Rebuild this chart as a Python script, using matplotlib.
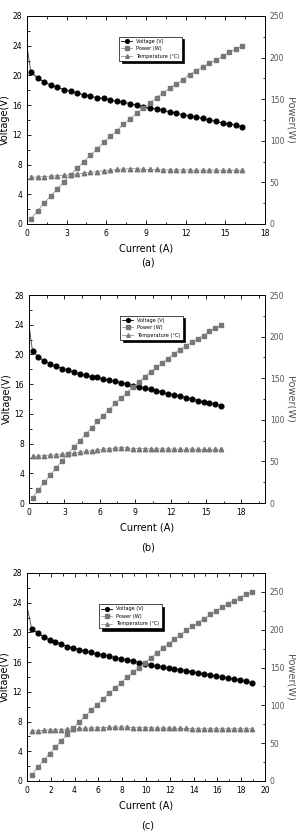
import matplotlib
matplotlib.use("Agg")
import matplotlib.pyplot as plt
from matplotlib.ticker import MultipleLocator, AutoMinorLocator

# panels (a) and (b)
current_ab = [0.3, 0.8, 1.3, 1.8, 2.3, 2.8, 3.3, 3.8, 4.3, 4.8, 5.3, 5.8, 6.3, 6.8,
              7.3, 7.8, 8.3, 8.8, 9.3, 9.8, 10.3, 10.8, 11.3, 11.8, 12.3, 12.8,
              13.3, 13.8, 14.3, 14.8, 15.3, 15.8, 16.3]
voltage_ab = [20.4, 19.7, 19.1, 18.7, 18.4, 18.1, 17.9, 17.6, 17.4, 17.2, 17.0,
              16.9, 16.7, 16.5, 16.4, 16.2, 16.0, 15.8, 15.6, 15.5, 15.3, 15.1,
              14.9, 14.7, 14.6, 14.4, 14.2, 14.0, 13.8, 13.6, 13.5, 13.3, 13.1]
power_ab = [6.1, 15.8, 24.8, 33.7, 42.3, 50.7, 59.1, 66.9, 74.8, 82.6, 90.1,
            98.0, 105.2, 112.2, 119.7, 126.4, 132.8, 139.0, 145.1, 151.9, 157.6,
            163.1, 168.4, 173.5, 179.6, 184.3, 188.9, 193.2, 197.3, 201.3, 206.6,
            210.1, 213.5]
temp_ab = [56, 56.5, 57, 57.5, 58, 58.5, 59, 60, 61, 62, 63, 64, 64.5, 65.5, 66,
           66.5, 66.5, 65.5, 65.5, 65.5, 65, 65, 65, 65, 65, 64.5, 64.5, 65, 64.5,
           64.5, 64.5, 64.5, 64.5]
v_open_ab = 24.0

# panel (c)
current_c = [0.4, 0.9, 1.4, 1.9, 2.4, 2.9, 3.4, 3.9, 4.4, 4.9, 5.4, 5.9, 6.4, 6.9,
             7.4, 7.9, 8.4, 8.9, 9.4, 9.9, 10.4, 10.9, 11.4, 11.9, 12.4, 12.9,
             13.4, 13.9, 14.4, 14.9, 15.4, 15.9, 16.4, 16.9, 17.4, 17.9, 18.4, 18.9]
voltage_c = [20.5, 19.9, 19.4, 19.0, 18.7, 18.4, 18.1, 17.9, 17.7, 17.5, 17.3,
             17.1, 17.0, 16.8, 16.6, 16.45, 16.3, 16.15, 15.95, 15.8, 15.65, 15.5,
             15.4, 15.25, 15.1, 15.0, 14.85, 14.7, 14.55, 14.4, 14.3, 14.15, 14.0,
             13.85, 13.7, 13.55, 13.4, 13.2]
power_c = [8.2, 17.9, 27.2, 36.1, 44.9, 53.4, 61.5, 69.8, 77.9, 85.8, 93.4, 100.9,
           108.8, 115.9, 122.8, 130.0, 136.9, 143.7, 149.9, 156.4, 162.8, 169.0,
           175.6, 181.5, 187.2, 193.5, 199.0, 204.3, 209.5, 214.6, 220.2, 225.0,
           229.6, 234.1, 238.4, 242.5, 246.6, 249.5]
temp_c = [66, 66.5, 67, 67.5, 68, 68, 68.5, 69, 69.5, 70, 70, 70.5, 70.5, 71, 71,
          71.5, 71.5, 70.5, 70.5, 70.5, 70.5, 70, 70, 70, 70, 69.5, 69.5, 69, 69,
          69, 69, 69, 69, 69, 69, 69, 69, 69]
v_open_c = 23.5

GRAY = "#777777"
LGRAY = "#999999"


def panel(fig, rect, cur, volt, powr, temp, v0, xmax, xstep, pmax, leg_xy, tag, tag_y):
    ax = fig.add_axes(rect)
    ax2 = ax.twinx()

    ax.plot([0, cur[0]], [v0, volt[0]], color="#444444", lw=0.6)
    h1, = ax.plot(cur, volt, "-o", color="black", ms=3.4, lw=0.6, label="Voltage (V)")
    h2, = ax2.plot(cur, powr, "-s", color=LGRAY, mfc=GRAY, mec=GRAY, ms=2.8, lw=0.6,
                   label="Power (W)")
    h3, = ax2.plot(cur, temp, "-^", color=LGRAY, mfc=GRAY, mec=GRAY, ms=3.2, lw=0.6,
                   label="Temperature (\u00b0C)")

    ax.set_xlim(0, xmax)
    ax.set_ylim(0, 28)
    ax2.set_ylim(0, pmax)
    if xstep == 3:
        ax.set_xticks(list(range(0, 19, 3)))
    else:
        ax.set_xticks(list(range(0, 21, 2)))
    ax.xaxis.set_minor_locator(AutoMinorLocator(2))
    ax.yaxis.set_major_locator(MultipleLocator(4))
    ax.yaxis.set_minor_locator(AutoMinorLocator(2))
    ax2.yaxis.set_major_locator(MultipleLocator(50))
    ax2.yaxis.set_minor_locator(AutoMinorLocator(2))

    ax.tick_params(which="both", direction="in", top=True, labelsize=5.5, width=0.6)
    ax.tick_params(which="major", length=3)
    ax.tick_params(which="minor", length=1.8)
    ax2.tick_params(which="both", direction="in", labelsize=5.5, width=0.6,
                    labelcolor="#555555")
    ax2.tick_params(which="major", length=3)
    ax2.tick_params(which="minor", length=1.8)
    for a in (ax, ax2):
        for s in a.spines.values():
            s.set_linewidth(0.6)

    ax.set_xlabel("Current (A)", fontsize=7, labelpad=4)
    ax.set_ylabel("Voltage(V)", fontsize=7, labelpad=2)
    ax2.set_ylabel("Power(W)", fontsize=7, rotation=270, labelpad=8, color="#555555")

    leg = ax2.legend(handles=[h1, h2, h3], loc="upper left", bbox_to_anchor=leg_xy,
                     fontsize=3.6, frameon=True, fancybox=False,
                     shadow={"color": "black", "alpha": 1.0},
                     handlelength=2.2, borderpad=0.4, labelspacing=0.5,
                     markerscale=0.8, edgecolor="black", framealpha=1.0)
    leg.get_frame().set_linewidth(0.5)

    fig.text(0.5, tag_y, tag, ha="center", va="center", fontsize=7)


fig = plt.figure(figsize=(2.96, 8.32), dpi=100)

panel(fig, [0.091, 0.7308, 0.804, 0.25], current_ab, voltage_ab, power_ab, temp_ab,
      v_open_ab, 18, 3, 250, (0.378, 0.913), "(a)", 0.684)
panel(fig, [0.098, 0.3954, 0.797, 0.25], current_ab, voltage_ab, power_ab, temp_ab,
      v_open_ab, 20, 3, 250, (0.377, 0.913), "(b)", 0.3425)
panel(fig, [0.091, 0.0613, 0.804, 0.25], current_c, voltage_c, power_c, temp_c,
      v_open_c, 20, 2, 275, (0.294, 0.861), "(c)", 0.008)

fig.savefig("out.png", dpi=100)
